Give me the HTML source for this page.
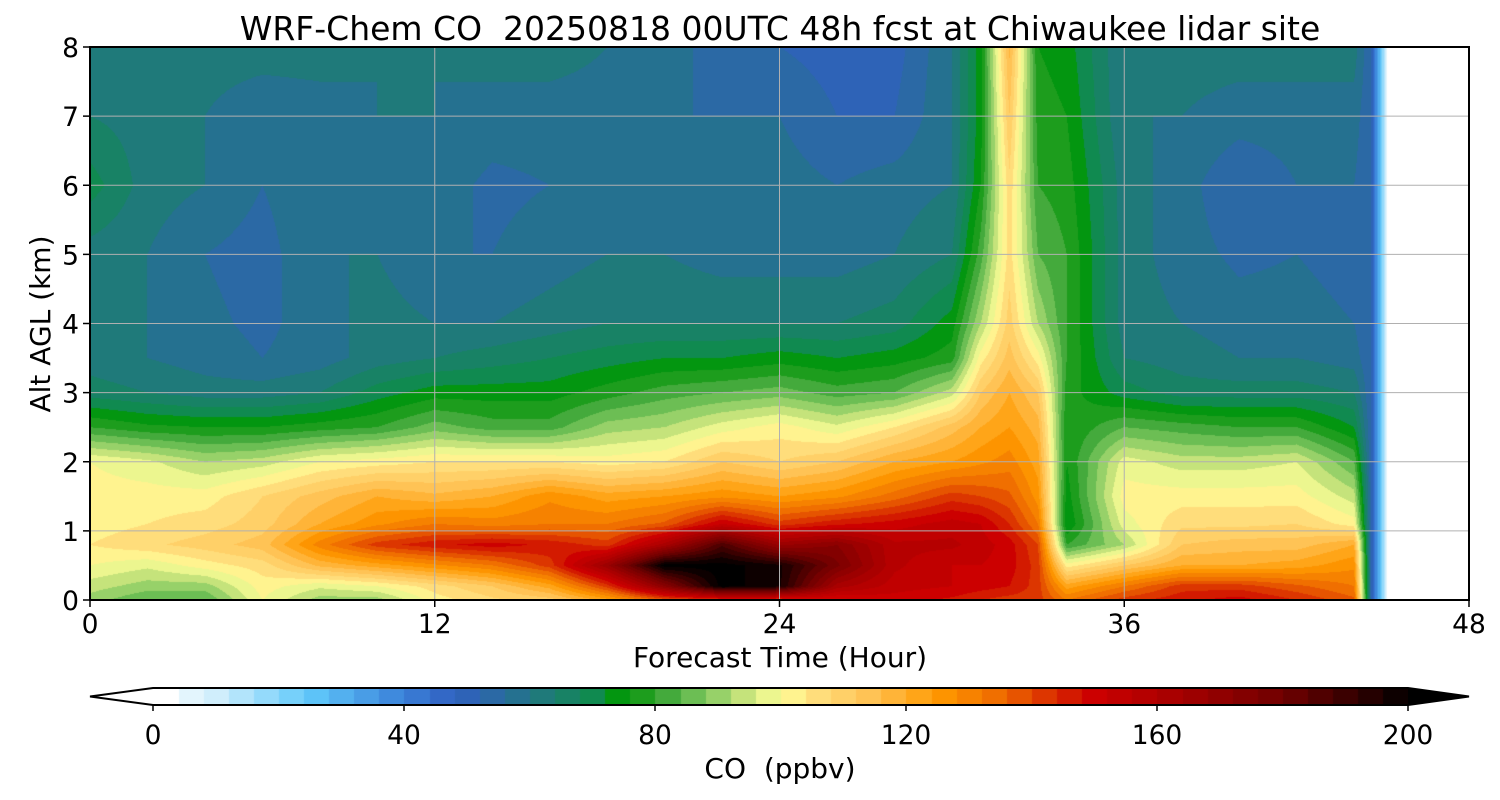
<!DOCTYPE html>
<html><head><meta charset="utf-8">
<style>
body{margin:0;background:#fff;width:1500px;height:800px;overflow:hidden;font-family:"DejaVu Sans","Liberation Sans",sans-serif;}
#wrap{position:relative;width:1500px;height:800px;}
canvas{position:absolute;}
svg text{font-family:"DejaVu Sans","Liberation Sans",sans-serif;}
</style></head><body>
<div id="wrap">
<canvas id="plot" width="1379" height="553" style="left:90px;top:47px"></canvas>
<canvas id="cbar" width="1255" height="17" style="left:153px;top:688px"></canvas>
<svg id="ov" width="1500" height="800" style="position:absolute;left:0;top:0"></svg>
</div>
<script>
const hours=[0,2,4,6,8,10,12,14,16,18,20,22,24,26,28,30,31,32,33,34,36,38,40,42,44,44.6,45.2,48];
const heights=[0,0.2,0.5,0.8,1.1,1.5,2,2.5,3,3.5,4,5,6,7,8];
const coValues=[
[88,92,98,102,100,100,98,78,64,60,60,60,68,62,60],
[82,88,95,105,102,100,95,75,62,58,58,58,60,60,58],
[82,88,100,108,104,100,90,74,60,56,55,54,58,58,60],
[98,100,104,112,108,106,92,74,60,54,53,52,54,55,60],
[88,95,115,128,118,112,98,76,62,56,56,58,58,56,60],
[88,98,120,140,125,118,100,78,68,60,60,58,56,58,58],
[100,104,125,145,130,115,102,84,72,62,58,54,56,58,58],
[105,110,130,148,128,118,102,80,72,64,58,54,53,56,60],
[108,120,140,145,130,125,102,80,72,66,60,56,54,56,60],
[120,140,165,140,130,120,100,88,76,68,62,58,56,56,58],
[135,170,200,160,135,122,102,90,80,70,62,58,56,54,56],
[140,200,200,185,150,125,110,96,82,70,62,56,56,54,52],
[140,195,195,165,140,122,106,100,84,72,62,56,56,54,50],
[145,160,175,170,145,125,110,95,80,70,62,56,54,50,48],
[148,152,155,155,148,132,118,102,82,72,64,58,56,50,48],
[145,150,150,155,152,140,122,112,92,76,72,62,58,58,58],
[142,148,150,152,150,138,125,118,110,100,90,80,74,72,72],
[140,146,148,148,142,135,128,122,118,112,108,104,105,110,115],
[140,140,140,138,130,124,120,116,110,100,90,82,78,76,74],
[130,120,100,78,70,72,74,74,76,78,78,78,76,74,72],
[140,130,110,90,96,100,96,82,68,62,60,60,60,58,58],
[145,140,118,110,105,100,92,80,64,60,58,56,56,58,60],
[148,140,118,112,105,100,92,78,64,58,56,53,50,56,60],
[142,135,120,112,106,100,94,78,64,58,56,54,54,56,60],
[135,130,125,118,100,92,82,70,62,56,54,52,54,56,60],
[50,50,50,50,50,50,50,50,50,50,50,50,50,50,50],
[0,0,0,0,0,0,0,0,0,0,0,0,0,0,0],
[0,0,0,0,0,0,0,0,0,0,0,0,0,0,0]];
const xTicks=[0,12,24,36,48];
const yTicks=[0,1,2,3,4,5,6,7,8];
const cbTicks=[0,40,80,120,160,200];
const cmapVals=[0,10,25,40,48,55,62,70,75,80,88,95,100,105,115,125,135,145,150,165,180,195,200];
const cmapCols=["#ffffff","#d0eefc","#5fc8fa","#3a80d8","#3060c0","#2a6aa0","#1f7a7a","#108a50","#009900","#30a030","#80c860","#d0e880","#ffff99","#ffe080","#ffc050","#ff9900","#ee6a00","#d52000","#cc0000","#a00000","#700000","#200000","#000000"];

const L=90,T=47,W=1379,H=553;
const xs=h=>L+h/48*W, ys=z=>T+H-z/8*H;
function hex(c){return [1,3,5].map(i=>parseInt(c.substr(i,2),16));}
const cmRGB=cmapCols.map(hex);
function color(v){
  if(v<4)return [255,255,255];
  v=Math.max(0,Math.min(200,Math.round(v/4)*4+2));
  for(let i=0;i<cmapVals.length-1;i++){
    if(v<=cmapVals[i+1]){const t=(v-cmapVals[i])/(cmapVals[i+1]-cmapVals[i]);
      return cmRGB[i].map((a,k)=>a+(cmRGB[i+1][k]-a)*t);}
  }
  return cmRGB[cmRGB.length-1];
}
function idx(arr,v){for(let i=0;i<arr.length-1;i++)if(v<=arr[i+1])return i;return arr.length-2;}
function sample(h,z){
  const i=idx(hours,h),j=idx(heights,z);
  const tx=(h-hours[i])/(hours[i+1]-hours[i]),tz=(z-heights[j])/(heights[j+1]-heights[j]);
  const a=coValues[i][j],b=coValues[i+1][j],c=coValues[i][j+1],d=coValues[i+1][j+1];
  return (a*(1-tx)+b*tx)*(1-tz)+(c*(1-tx)+d*tx)*tz;
}
const ctx=document.getElementById('plot').getContext('2d');
const img=ctx.createImageData(W,H);
for(let py=0;py<H;py++){const z=(H-py-0.5)/H*8;
  for(let px=0;px<W;px++){const h=(px+0.5)/W*48;
    const c=color(sample(h,z));const o=(py*W+px)*4;
    img.data[o]=c[0];img.data[o+1]=c[1];img.data[o+2]=c[2];img.data[o+3]=255;}}
ctx.putImageData(img,0,0);
const cb=document.getElementById('cbar').getContext('2d');
for(let px=0;px<1255;px++){const c=color(Math.floor(px/1255*50)*4);cb.fillStyle=`rgb(${c.map(Math.round)})`;cb.fillRect(px,0,1,17);}

const svg=document.getElementById('ov');const NS="http://www.w3.org/2000/svg";
function el(t,a,txt){const e=document.createElementNS(NS,t);for(const k in a)e.setAttribute(k,a[k]);if(txt!==undefined)e.textContent=txt;svg.appendChild(e);return e;}
xTicks.forEach(h=>{
  const g=el('line',{x1:xs(h),x2:xs(h),y1:T,y2:T+H,stroke:'#b0b0b0','stroke-width':1});
  
  
  const tk=el('line',{x1:xs(h),x2:xs(h),y1:T+H,y2:T+H+7,stroke:'#000','stroke-width':1.5});
  
  
  const t=el('text',{x:xs(h),y:633,'text-anchor':'middle','font-size':26.5},h);
  
  
});
yTicks.forEach(z=>{
  const g=el('line',{x1:L,x2:L+W,y1:ys(z),y2:ys(z),stroke:'#b0b0b0','stroke-width':1});
  
  
  const tk=el('line',{x1:L-7,x2:L,y1:ys(z),y2:ys(z),stroke:'#000','stroke-width':1.5});
  
  
  const t=el('text',{x:L-11,y:ys(z)+10,'text-anchor':'end','font-size':26.5},z);
  
  
});
const fr=el('rect',{x:L,y:T,width:W,height:H,fill:'none',stroke:'#000','stroke-width':2});


const ti=el('text',{x:780,y:40,'text-anchor':'middle','font-size':33},'WRF-Chem CO  20250818 00UTC 48h fcst at Chiwaukee lidar site');


ti.style.whiteSpace='pre';
const xl=el('text',{x:780,y:667,'text-anchor':'middle','font-size':28},'Forecast Time (Hour)');


const yl=el('text',{x:0,y:0,'text-anchor':'middle','font-size':28,transform:'translate(50,324) rotate(-90)'},'Alt AGL (km)');


const lt=el('polygon',{points:'153,688 90,696.5 153,705',fill:'#ffffff',stroke:'none'});


const rt=el('polygon',{points:'1408,688 1469,696.5 1408,705',fill:'#000000'});


const co=el('polygon',{points:'153,688 1408,688 1469,696.5 1408,705 153,705 90,696.5',fill:'none',stroke:'#000','stroke-width':2});


cbTicks.forEach(v=>{const x=153+v/200*1255;
  const tk=el('line',{x1:x,x2:x,y1:705,y2:711,stroke:'#000','stroke-width':1.5});
  
  
  const t=el('text',{x:x,y:744,'text-anchor':'middle','font-size':26.5},v);
  
  
});
const cl=el('text',{x:780,y:778,'text-anchor':'middle','font-size':28},'CO  (ppbv)');


cl.style.whiteSpace='pre';
</script>
</body></html>
